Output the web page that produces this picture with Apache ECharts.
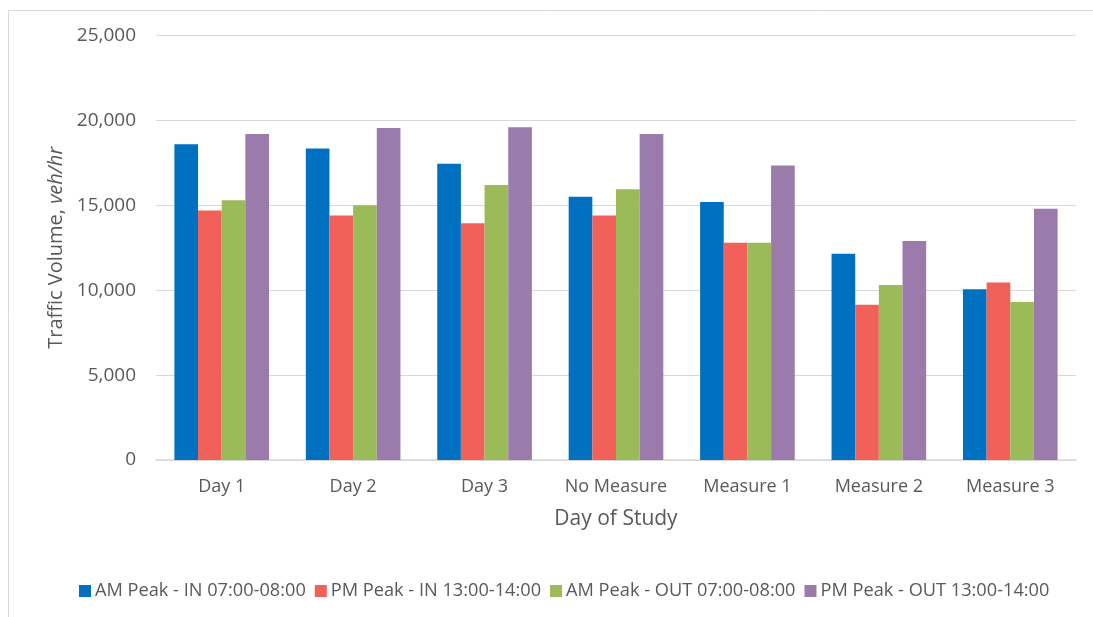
<!DOCTYPE html>
<html>
<head>
<meta charset="utf-8">
<script src="https://cdn.jsdelivr.net/npm/echarts@6/dist/echarts.min.js"></script>
<style>html,body{margin:0;padding:0;background:#fff;}#c{width:1093px;height:617px;}</style>
</head>
<body>
<div id="c"></div>
<script>
var categories = ['Day 1', 'Day 2', 'Day 3', 'No Measure', 'Measure 1', 'Measure 2', 'Measure 3'];
var seriesNames = ['AM Peak - IN 07:00-08:00', 'PM Peak - IN 13:00-14:00', 'AM Peak - OUT 07:00-08:00', 'PM Peak - OUT 13:00-14:00'];
var amIn  = [18600, 18350, 17450, 15500, 15200, 12150, 10050];
var pmIn  = [14700, 14400, 13950, 14400, 12800, 9150, 10450];
var amOut = [15300, 15000, 16200, 15950, 12800, 10300, 9300];
var pmOut = [19200, 19550, 19600, 19200, 17350, 12900, 14800];
var yTicks = {min: 0, max: 25000, interval: 5000};
var colors = ['#0070C0', '#F2605A', '#9BBB59', '#9B7BAC'];

var font = '"Open Sans", "Noto Sans", sans-serif';
var txt = '#595959';
var dataSets = [amIn, pmIn, amOut, pmOut];
var series = dataSets.map(function (d, i) {
  return {
    name: seriesNames[i], type: 'bar', data: d,
    barGap: '0%', barCategoryGap: '28%',
    itemStyle: {color: colors[i]}
  };
});

var chart = echarts.init(document.getElementById('c'), null, {renderer: 'canvas'});
chart.setOption({
  animation: false,
  color: colors,
  graphic: [{
    type: 'rect', shape: {x: 8.5, y: 10.5, width: 1200, height: 700},
    style: {fill: 'none', stroke: '#d9d9d9', lineWidth: 1}, silent: true
  }],
  grid: {left: 156, right: 17, top: 35.5, bottom: 157, containLabel: false},
  legend: {
    data: seriesNames, top: 577, left: 74, itemWidth: 12, itemHeight: 12,
    itemGap: 9, icon: 'rect',
    textStyle: {color: txt, fontFamily: font, fontSize: 18.2, padding: [0, 0, 0, -1]}
  },
  xAxis: {
    type: 'category', data: categories,
    axisLine: {lineStyle: {color: '#d9d9d9', width: 1.5}},
    axisTick: {show: false},
    axisLabel: {color: txt, fontFamily: font, fontSize: 18, margin: 18, interval: 0},
    name: 'Day of Study', nameLocation: 'middle', nameGap: 49,
    nameTextStyle: {color: txt, fontFamily: font, fontSize: 21}
  },
  yAxis: {
    type: 'value', min: yTicks.min, max: yTicks.max, interval: yTicks.interval,
    axisLine: {show: false}, axisTick: {show: false},
    splitLine: {lineStyle: {color: '#d9d9d9', width: 1}},
    axisLabel: {
      color: txt, fontFamily: font, fontSize: 19, margin: 20,
      formatter: function (v) { return v === 0 ? '0' : v.toLocaleString('en-US'); }
    },
    name: '{a|Traffic Volume, }{b|veh/hr}', nameLocation: 'middle', nameGap: 90,
    nameTextStyle: {
      color: txt, fontFamily: font, fontSize: 20,
      rich: {
        a: {color: txt, fontFamily: font, fontSize: 20},
        b: {color: txt, fontFamily: font, fontSize: 20, fontStyle: 'italic'}
      }
    }
  },
  series: series
});
</script>
</body>
</html>
